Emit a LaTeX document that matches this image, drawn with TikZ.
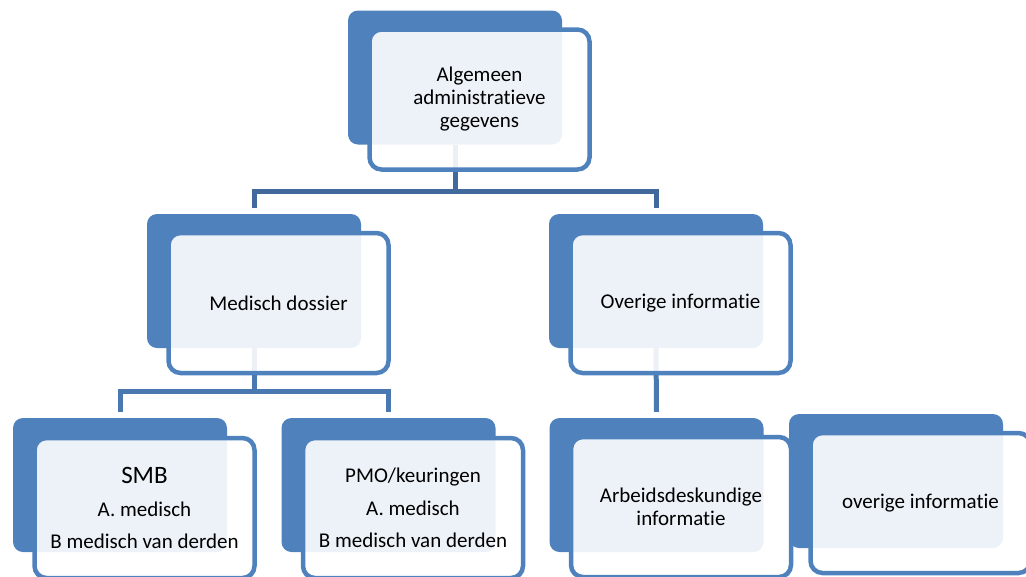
\documentclass[tikz,border=0pt]{standalone}
\usepackage{fontspec}
\setmainfont{Carlito}[Ligatures=NoCommon,RawFeature=-clig,RawFeature=-calt,RawFeature=-dlig,RawFeature=-rlig,RawFeature=-hlig]
\usepackage{tikz}
\usetikzlibrary{calc,positioning,backgrounds}
\definecolor{boxblue}{HTML}{4F81BD}
\definecolor{topline}{HTML}{41699C}
\definecolor{subline}{HTML}{4A78B0}
\begin{document}
\begin{tikzpicture}[x=1pt,y=-1pt,
backbox/.style={fill=boxblue,rounded corners=10pt,minimum width=214pt,minimum height=134pt},
frontbox/.style={draw=boxblue,line width=4.5pt,fill=white,fill opacity=0.9,text opacity=1,
rounded corners=12pt,minimum width=220pt,minimum height=140pt,align=center,
font=\fontsize{21}{23}\selectfont},
listbox/.style={frontbox,font=\fontsize{21}{32.5}\selectfont},
link/.style={line width=5pt,draw=#1}]
\useasboundingbox (0,0) rectangle (1026,576);
\clip (0,0) rectangle (1026,576);
% top level
\node[backbox] (algB) at (455,77.5){};
\node[frontbox] (alg) at (479.5,99.5){Algemeen\\administrat\kern0pt ieve\\gegevens};
% second level
\node[backbox] (medB) at (254,281){};
\node[frontbox] (med) at (278.5,303){Medisch dossier};
\node[backbox] (oveB) at (656,281){};
\node[frontbox] (ove) at (680.5,303){Overige informat\kern0pt ie};
% third level
\node[backbox] (smbB) at (120,485){};
\node[listbox] (smb) at (144.5,508){{\fontsize{25}{32.5}\selectfont SMB}\\A. medisch\\B medisch van derden};
\node[backbox] (pmoB) at (388.5,485){};
\node[listbox] (pmo) at (413,508){PMO/keuringen\\A. medisch\\B medisch van derden};
\node[backbox] (arbB) at (656.5,485){};
\node[frontbox] (arb) at (681,507){Arbeidsdeskundige\\informat\kern0pt ie};
\node[backbox] (ovrB) at (896,481){};
\node[frontbox] (ovr) at (920.5,503){overige informat\kern0pt ie};
% connectors
\begin{pgfonlayer}{background}
\coordinate (j1) at (455,191);
\coordinate (j2) at (254,391);
\draw[link=topline] (algB.south) -- (j1) -| ([yshift=6pt]medB.north);
\draw[link=topline] (j1) -| ([yshift=6pt]oveB.north);
\draw[link=subline] (medB.south) -- (j2) -| ([yshift=6pt]smbB.north);
\draw[link=subline] (j2) -| ([yshift=6pt]pmoB.north);
\draw[link=subline] (oveB.south) -- ([yshift=6pt]arbB.north);
\end{pgfonlayer}
\end{tikzpicture}
\end{document}
